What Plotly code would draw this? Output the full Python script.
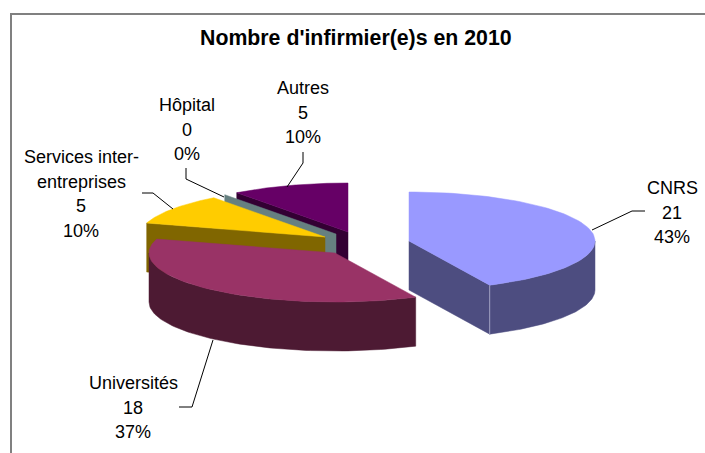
import math
import plotly.graph_objects as go

categories = ["CNRS", "Universités", "Services inter-<br>entreprises", "Hôpital", "Autres"]
values = [21, 18, 5, 0, 5]
top_colors = ["#9999FF", "#993366", "#FFCC00", "#668080", "#660066"]
side_colors = ["#4D4D80", "#4D1A33", "#806600", "#668080", "#330033"]
# exploded slice centres in page pixels
centers = [(409, 241), (335, 253), (325, 237), (336, 234), (348, 232)]
draw_order = [4, 3, 2, 0, 1]
label_pos = [(672, 188), (133, 383), (81, 157), (187, 105), (303, 88)]
leaders = [
    [(592, 230), (632, 211), (645, 211)],
    [(213, 340), (192, 407), (179, 407)],
    [(173, 209), (153, 193), (142, 193)],
    [(224, 197), (186, 179), (186, 168)],
    [(287, 187), (303, 163), (303, 152)],
]
RX, RY, DEPTH = 186, 49, 49
LINE_H = 24.7
FONT = "Liberation Sans, Arial, sans-serif"

total = sum(values)
angles = [0]
for v in values:
    angles.append(angles[-1] + v / total * 360)


def pt(c, a, dz=0):
    r = math.radians(a)
    return c[0] + RX * math.sin(r), c[1] - RY * math.cos(r) + dz


def arc(c, a0, a1, dz=0, n=80):
    return [pt(c, a0 + (a1 - a0) * i / n, dz) for i in range(n + 1)]


fig = go.Figure()


def poly(points, color):
    xs = [p[0] for p in points] + [points[0][0]]
    ys = [p[1] for p in points] + [points[0][1]]
    fig.add_trace(go.Scatter(x=xs, y=ys, mode="lines", fill="toself", fillcolor=color,
                             line=dict(color=color, width=0.5), hoverinfo="skip"))


def line(points, color, width=1):
    fig.add_trace(go.Scatter(x=[p[0] for p in points], y=[p[1] for p in points], mode="lines",
                             line=dict(color=color, width=width), hoverinfo="skip"))


def wall(c, a, color):
    poly([c, pt(c, a), pt(c, a, DEPTH), (c[0], c[1] + DEPTH)], color)


# Border of the chart area
line([(11, 460), (11, 14), (710, 14)], "#808080", 2)

for i in draw_order:
    c, a0, a1 = centers[i], angles[i], angles[i + 1]
    # radial walls that face the viewer
    if math.sin(math.radians(a1)) > 0:
        wall(c, a1, side_colors[i])
    if math.sin(math.radians(a0)) < 0:
        wall(c, a0, side_colors[i])
    # outer wall, the part facing the viewer
    lo, hi = max(a0, 90), min(a1, 270)
    if hi > lo:
        poly(arc(c, lo, hi) + arc(c, hi, lo, DEPTH), side_colors[i])
    # top face
    if a1 > a0:
        poly([c] + arc(c, a0, a1), top_colors[i])

# Edge highlight between the CNRS faces
c_edge = pt(centers[0], angles[1])
line([c_edge, (c_edge[0], c_edge[1] + DEPTH)], "#A0A0C0", 1)

for pts in leaders:
    line(pts, "#000000", 1)

for i, name in enumerate(categories):
    lines = name.split("<br>") + [str(values[i]), f"{round(values[i] / total * 100)}%"]
    x, y = label_pos[i]
    for k, t in enumerate(lines):
        fig.add_annotation(x=x, y=y + k * LINE_H, text=t, showarrow=False, xanchor="center",
                           yanchor="middle", font=dict(family=FONT, size=18, color="#000000"))

fig.add_annotation(x=356, y=38, text="<b>Nombre d'infirmier(e)s en 2010</b>", showarrow=False,
                   xanchor="center", yanchor="middle", font=dict(family=FONT, size=21.3, color="#000000"))

fig.update_layout(
    width=705, height=453, margin=dict(l=0, r=0, t=0, b=0),
    paper_bgcolor="white", plot_bgcolor="white", showlegend=False,
    xaxis=dict(range=[0, 705], visible=False, fixedrange=True),
    yaxis=dict(range=[453, 0], visible=False, fixedrange=True),
)
fig.write_html("out.html", config={"displayModeBar": False},
               post_script="document.body.style.margin='0';document.documentElement.style.overflow='hidden';")
